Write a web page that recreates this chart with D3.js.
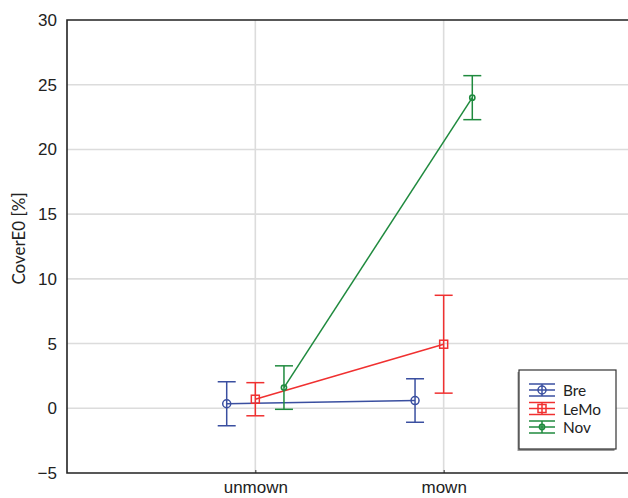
<!DOCTYPE html>
<html>
<head>
<meta charset="utf-8">
<script src="https://cdn.jsdelivr.net/npm/d3@7"></script>
<style>
  html, body { margin: 0; padding: 0; background: #fff; }
  svg { display: block; font-family: Lato, "Open Sans", sans-serif; }
</style>
</head>
<body>
<svg id="chart" width="628" height="498"></svg>
<script>
// Treatment categories and y-axis ticks
const categories = ["unmown", "mown"];
const yTicks = [-5, 0, 5, 10, 15, 20, 25, 30];

// Site series: mean cover and half-width of the error bar, per category
const seriesNames = ["Bre", "LeMo", "Nov"];
const seriesColors = ["#3a4fa0", "#f03030", "#1f8a3e"];
const breMean = [0.35, 0.6];
const breErr = [1.7, 1.68];
const lemoMean = [0.7, 4.95];
const lemoErr = [1.28, 3.78];
const novMean = [1.6, 24.0];
const novErr = [1.68, 1.7];

const series = [
  { name: seriesNames[0], color: seriesColors[0], mean: breMean, err: breErr, marker: "circle", offset: -1 },
  { name: seriesNames[1], color: seriesColors[1], mean: lemoMean, err: lemoErr, marker: "square", offset: 0 },
  { name: seriesNames[2], color: seriesColors[2], mean: novMean, err: novErr, marker: "dot", offset: 1 }
];

const svg = d3.select("#chart");
const plotLeft = 67, plotRight = 632, plotTop = 20, plotBottom = 473;

// Categories sit at integer positions; the axis spans one unit either side
const x = d3.scaleLinear().domain([-1, categories.length]).range([plotLeft, plotRight]);
const y = d3.scaleLinear().domain([-5, 30]).range([plotBottom, plotTop]);
const dodge = 0.152; // horizontal offset between sites in category units

// Grid
const grid = svg.append("g");
grid.selectAll("line.h").data(yTicks.filter(t => t > -5 && t < 30)).enter().append("line")
  .attr("x1", plotLeft).attr("x2", plotRight)
  .attr("y1", d => y(d)).attr("y2", d => y(d))
  .attr("stroke", "#dcdcdc").attr("stroke-width", 1.6);
grid.selectAll("line.v").data(categories).enter().append("line")
  .attr("x1", (d, i) => x(i)).attr("x2", (d, i) => x(i))
  .attr("y1", plotTop).attr("y2", plotBottom)
  .attr("stroke", "#dcdcdc").attr("stroke-width", 1.6);

// Axes
const yAxis = svg.append("g").attr("transform", `translate(${plotLeft},0)`)
  .call(d3.axisLeft(y).tickValues(yTicks).tickSize(0).tickPadding(10)
    .tickFormat(d => d < 0 ? "\u2212" + Math.abs(d) : d));
yAxis.select(".domain").remove();
yAxis.selectAll("text").attr("font-size", 17).attr("fill", "#222");

const xAxis = svg.append("g").attr("transform", `translate(0,${plotBottom})`)
  .call(d3.axisBottom(x).tickValues(categories.map((d, i) => i)).tickSize(0).tickPadding(8)
    .tickFormat(i => categories[i]));
xAxis.select(".domain").remove();
xAxis.selectAll("text").attr("font-size", 17).attr("fill", "#222");
xAxis.selectAll(".tick").append("line").attr("y1", 0).attr("y2", -3)
  .attr("stroke", "#333").attr("stroke-width", 1);

// Frame: left, bottom and top lines
svg.append("path")
  .attr("d", `M${plotRight},${plotTop}H${plotLeft}V${plotBottom}H${plotRight}`)
  .attr("fill", "none").attr("stroke", "#222").attr("stroke-width", 1.6);

// Y label
svg.append("text")
  .attr("transform", `translate(25,${(plotTop + plotBottom) / 2 - 8}) rotate(-90)`)
  .attr("text-anchor", "middle").attr("font-size", 17).attr("fill", "#222")
  .text("CoverE0 [%]");

// Markers
function drawMarker(g, type, cx, cy, color) {
  if (type === "circle") {
    g.append("circle").attr("cx", cx).attr("cy", cy).attr("r", 4)
      .attr("fill", "none").attr("stroke", color).attr("stroke-width", 1.5);
  } else if (type === "square") {
    g.append("rect").attr("x", cx - 4).attr("y", cy - 4).attr("width", 8).attr("height", 8)
      .attr("fill", "none").attr("stroke", color).attr("stroke-width", 1.5);
  } else {
    g.append("circle").attr("cx", cx).attr("cy", cy).attr("r", 2.6)
      .attr("fill", "none").attr("stroke", color).attr("stroke-width", 1.6);
  }
}

const capHalf = 9;
series.forEach(s => {
  const g = svg.append("g");
  const pts = s.mean.map((m, i) => [x(i + s.offset * dodge), y(m)]);
  g.append("path").attr("d", d3.line()(pts))
    .attr("fill", "none").attr("stroke", s.color).attr("stroke-width", 1.5);
  s.mean.forEach((m, i) => {
    const cx = x(i + s.offset * dodge);
    const yt = y(m + s.err[i]), yb = y(m - s.err[i]);
    g.append("line").attr("x1", cx).attr("x2", cx).attr("y1", yt).attr("y2", yb)
      .attr("stroke", s.color).attr("stroke-width", 1.5);
    [yt, yb].forEach(yy => g.append("line")
      .attr("x1", cx - capHalf).attr("x2", cx + capHalf).attr("y1", yy).attr("y2", yy)
      .attr("stroke", s.color).attr("stroke-width", 1.5));
    drawMarker(g, s.marker, cx, y(m), s.color);
  });
});

// Legend with drop shadow
const lg = svg.append("g").attr("transform", "translate(519,370)");
lg.append("rect").attr("x", -1.5).attr("y", 2).attr("width", 97).attr("height", 79)
  .attr("fill", "#9a9a9a");
lg.append("rect").attr("x", 0).attr("y", 0).attr("width", 97).attr("height", 79)
  .attr("fill", "#fff").attr("stroke", "#333").attr("stroke-width", 1.2);
series.forEach((s, i) => {
  const cy = 20 + i * 18.5;
  const g = lg.append("g");
  [-6, 0, 6].forEach(dy => g.append("line")
    .attr("x1", 10).attr("x2", 36).attr("y1", cy + dy).attr("y2", cy + dy)
    .attr("stroke", s.color).attr("stroke-width", 1.5));
  g.append("line").attr("x1", 23).attr("x2", 23).attr("y1", cy - 6).attr("y2", cy + 6)
    .attr("stroke", s.color).attr("stroke-width", 1.5);
  drawMarker(g, s.marker, 23, cy, s.color);
  g.append("text").attr("x", 44).attr("y", cy + 6).attr("font-size", 15.4).attr("fill", "#222")
    .text(s.name);
});
</script>
</body>
</html>
